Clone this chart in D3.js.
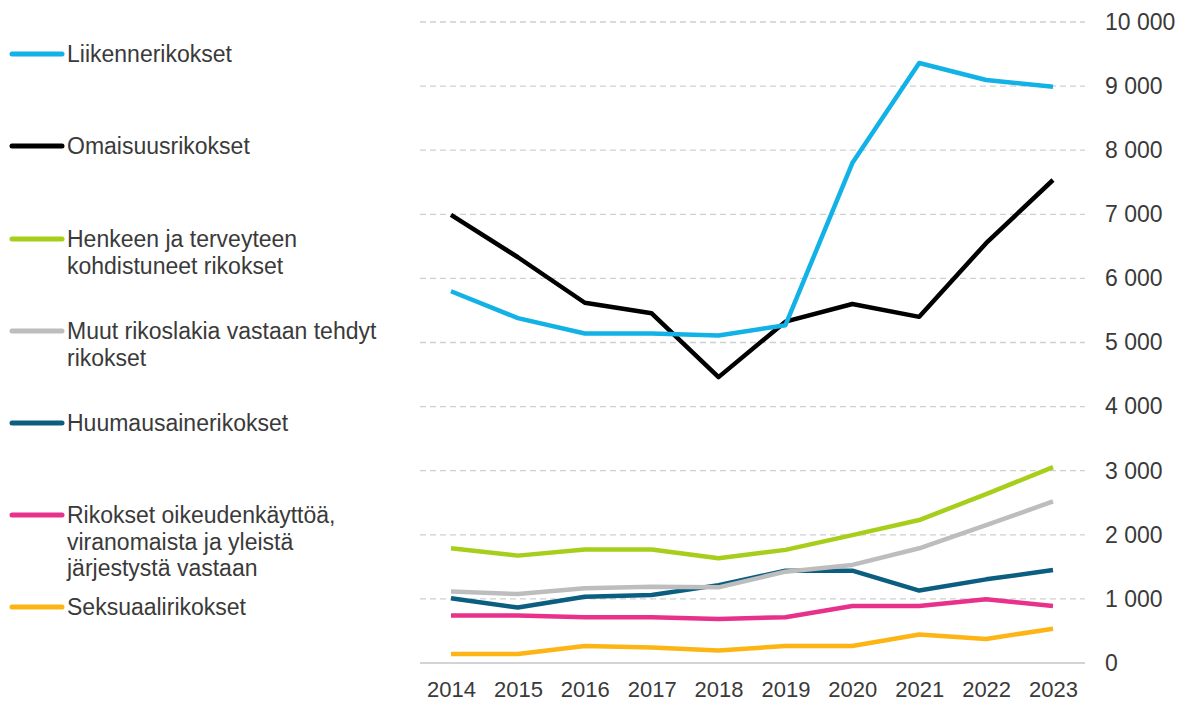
<!DOCTYPE html>
<html><head><meta charset="utf-8">
<script src="https://cdn.jsdelivr.net/npm/d3@7"></script>
<style>
body{margin:0;background:#fff;}
text{font-family:"Liberation Sans",Arial,sans-serif;fill:#3a3a3a;}
</style></head>
<body><svg id="c" width="1190" height="707"></svg>
<script>
const years = [2014,2015,2016,2017,2018,2019,2020,2021,2022,2023];
const liikenne   = [5800,5380,5140,5140,5110,5270,7800,9360,9095,8990];
const omaisuus   = [6990,6330,5620,5455,4460,5325,5600,5400,6550,7535];
const henkeen    = [1790,1675,1770,1770,1635,1765,1995,2230,2635,3055];
const muut       = [1115,1075,1165,1190,1180,1425,1530,1790,2150,2520];
const huumaus    = [1010,865,1035,1060,1215,1440,1440,1130,1305,1450];
const oikeus     = [740,740,715,715,685,715,890,890,995,890];
const seksuaali  = [140,140,265,240,195,265,265,445,375,535];
const yTicks = [0,1000,2000,3000,4000,5000,6000,7000,8000,9000,10000];

const series = [
  {name:["Liikennerikokset"], values:liikenne, color:"#12B2E6", ly:54},
  {name:["Omaisuusrikokset"], values:omaisuus, color:"#000000", ly:146},
  {name:["Henkeen ja terveyteen","kohdistuneet rikokset"], values:henkeen, color:"#A6CE1A", ly:239},
  {name:["Muut rikoslakia vastaan tehdyt","rikokset"], values:muut, color:"#BDBDBD", ly:331},
  {name:["Huumausainerikokset"], values:huumaus, color:"#0C5E80", ly:423},
  {name:["Rikokset oikeudenkäyttöä,","viranomaista ja yleistä","järjestystä vastaan"], values:oikeus, color:"#E8318A", ly:515},
  {name:["Seksuaalirikokset"], values:seksuaali, color:"#FDB515", ly:607}
];

const svg = d3.select("#c");
const x = d3.scalePoint().domain(years).range([451,1053]);
const y = d3.scaleLinear().domain([0,10000]).range([663,22]);
const gx0 = 420, gx1 = 1085;

// grid
svg.append("g").selectAll("line").data(yTicks.filter(d=>d>0)).join("line")
  .attr("x1",gx0).attr("x2",gx1).attr("y1",d=>y(d)).attr("y2",d=>y(d))
  .attr("stroke","#cfcfcf").attr("stroke-width",1.3).attr("stroke-dasharray","6,4");
svg.append("line").attr("x1",gx0).attr("x2",gx1).attr("y1",y(0)).attr("y2",y(0))
  .attr("stroke","#c4c4c4").attr("stroke-width",1.5);

// y axis labels
const fmt = d => d3.format(",")(d).replace(/,/g," ");
const ya = svg.append("g").attr("transform","translate(1097,0)")
  .call(d3.axisRight(y).tickValues(yTicks).tickFormat(fmt).tickSize(0).tickPadding(8));
ya.select(".domain").remove();
ya.selectAll("text").style("font-size","23px").style("font-family","Liberation Sans, Arial, sans-serif").attr("fill","#3a3a3a");

// x axis labels
const xa = svg.append("g").attr("transform","translate(0,"+y(0)+")")
  .call(d3.axisBottom(x).tickSize(0).tickPadding(18));
xa.select(".domain").remove();
xa.selectAll("text").style("font-size","22px").style("font-family","Liberation Sans, Arial, sans-serif").attr("fill","#3a3a3a");

// lines
const line = d3.line().x((d,i)=>x(years[i])).y(d=>y(d));
svg.append("g").selectAll("path").data(series.slice().reverse()).join("path")
  .attr("d",d=>line(d.values)).attr("fill","none").attr("stroke",d=>d.color)
  .attr("stroke-width",4.5).attr("stroke-linejoin","round").attr("stroke-linecap","butt");

// legend
const lg = svg.append("g");
series.forEach(s=>{
  lg.append("line").attr("x1",12).attr("x2",62).attr("y1",s.ly).attr("y2",s.ly)
    .attr("stroke",s.color).attr("stroke-width",5).attr("stroke-linecap","round");
  const t = lg.append("text").attr("x",67).attr("y",s.ly+8).style("font-size","23px");
  s.name.forEach((n,i)=>{
    t.append("tspan").attr("x",67).attr("y",s.ly+8+i*26.5).text(n);
  });
});
</script></body></html>
